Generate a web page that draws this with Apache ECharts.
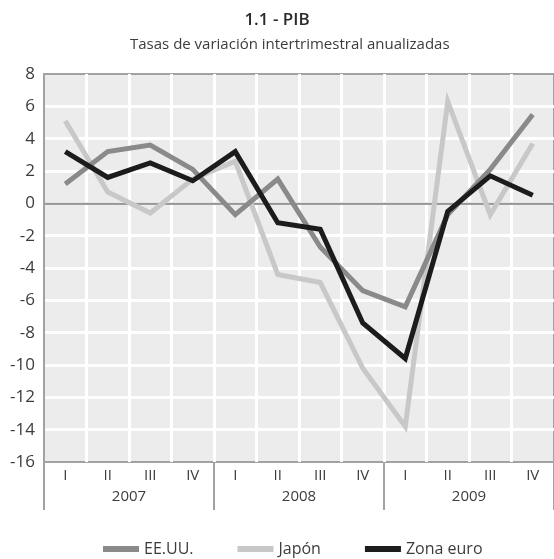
<!DOCTYPE html>
<html>
<head>
<meta charset="utf-8">
<script src="https://cdn.jsdelivr.net/npm/echarts@6/dist/echarts.min.js"></script>
<style>
  html, body { margin: 0; padding: 0; background: #fff; }
  #chart { width: 554px; height: 559px; }
</style>
</head>
<body>
<div id="chart"></div>
<script>
// Quarterly GDP growth, annualised quarter-on-quarter rates
const quarters = ['I', 'II', 'III', 'IV', 'I', 'II', 'III', 'IV', 'I', 'II', 'III', 'IV'];
const years = ['2007', '2008', '2009'];
const yTicks = { min: -16, max: 8, step: 2 };

const eeuu = [1.2, 3.2, 3.6, 2.1, -0.7, 1.5, -2.7, -5.4, -6.4, -0.7, 2.1, 5.5];
const japon = [5.1, 0.7, -0.6, 1.5, 2.6, -4.4, -4.9, -10.2, -13.8, 6.3, -0.7, 3.7];
const zonaEuro = [3.2, 1.6, 2.5, 1.4, 3.2, -1.2, -1.6, -7.4, -9.6, -0.5, 1.7, 0.5];

const FONT = 'Open Sans';
const TEXT = '#3c3c3c';
const AXIS = '#a2a2a2';

const chart = echarts.init(document.getElementById('chart'), null, { renderer: 'canvas' });

function lineSeries(name, data, color, z) {
  return {
    name, type: 'line', data, z,
    symbol: 'none',
    lineStyle: { color, width: 5, join: 'miter' },
    itemStyle: { color }
  };
}

chart.setOption({
  animation: false,
  backgroundColor: '#ffffff',
  textStyle: { fontFamily: FONT },
  title: [
    { text: '1.1 - PIB', left: 'center', top: 7,
      textStyle: { fontFamily: FONT, fontSize: 17, fontWeight: 600, color: '#2a2a2a' } },
    { text: 'Tasas de variación intertrimestral anualizadas', left: 125, top: 32,
      textStyle: { fontFamily: FONT, fontSize: 15, fontWeight: 'normal', color: TEXT } }
  ],
  legend: {
    top: 536, left: 98,
    itemWidth: 36, itemHeight: 6, itemGap: 44,
    icon: 'rect',
    textStyle: { fontFamily: FONT, fontSize: 16, color: TEXT },
    data: ['EE.UU.', 'Japón', 'Zona euro']
  },
  grid: {
    left: 44, top: 74, width: 512, height: 388,
    show: true, backgroundColor: '#ececec', borderColor: AXIS, borderWidth: 2
  },
  xAxis: [
    {
      type: 'category', data: quarters, position: 'bottom',
      boundaryGap: true,
      axisLine: { show: true, lineStyle: { color: AXIS, width: 2 } },
      axisTick: { show: false },
      axisLabel: { margin: 6, fontFamily: FONT, fontSize: 15, color: TEXT },
      splitLine: { show: true, showMinLine: false, showMaxLine: false,
                   lineStyle: { color: '#ffffff', width: 3 } }
    },
    {
      type: 'category', data: years, position: 'bottom',
      boundaryGap: true,
      axisLine: { show: false },
      axisTick: { show: true, length: 48, lineStyle: { color: AXIS, width: 2 } },
      axisLabel: { margin: 27, fontFamily: FONT, fontSize: 15, color: TEXT },
      splitLine: { show: false }
    }
  ],
  yAxis: {
    type: 'value', min: yTicks.min, max: yTicks.max, interval: yTicks.step,
    axisLine: { show: true, lineStyle: { color: AXIS, width: 2 } },
    axisTick: { show: false },
    axisLabel: { margin: 9, fontFamily: FONT, fontSize: 17, color: TEXT },
    splitLine: { show: true, showMinLine: false, showMaxLine: false,
                 lineStyle: { color: '#ffffff', width: 3 } }
  },
  series: [
    Object.assign(lineSeries('EE.UU.', eeuu, '#8a8a8a', 3), {
      markLine: {
        silent: true, symbol: 'none', label: { show: false },
        lineStyle: { color: '#979797', width: 1.3, type: 'solid' },
        data: [{ yAxis: 0 }], z: 1
      }
    }),
    lineSeries('Japón', japon, '#c8c8c8', 2),
    lineSeries('Zona euro', zonaEuro, '#1c1c1c', 4)
  ]
});
</script>
</body>
</html>
